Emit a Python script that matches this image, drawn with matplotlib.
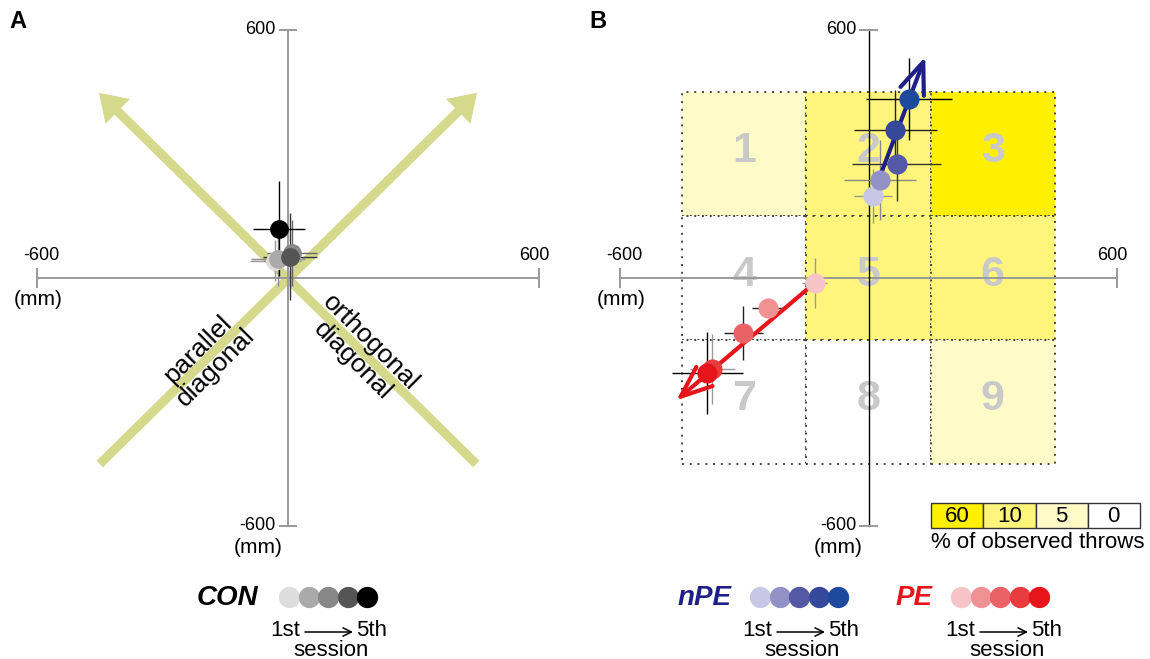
import matplotlib
matplotlib.use("Agg")
import matplotlib.pyplot as plt
from matplotlib.patches import Rectangle, FancyArrowPatch

plt.rcParams['font.family'] = ['Liberation Sans', 'DejaVu Sans']

# ---- data (mm) ----
# panel A: control group, sessions 1..5
con_x = [-30, -24, 10, 5, -22]
con_y = [42, 45, 60, 52, 119]
con_xerr = [60, 65, 60, 65, 62]
con_yerr = [50, 65, 80, 105, 115]
con_colors = ['#DDDDDD', '#AAAAAA', '#888888', '#555555', '#000000']
con_ecolors = ['#999999', '#888888', '#666666', '#333333', '#000000']

# diagonals drawn in panel A (start, end)
diagonals = [((-450, -450), (452, 448)), ((450, -450), (-452, 448))]

# panel B: nPE and PE groups, sessions 1..5
npe_x = [10, 27, 68, 65, 97]
npe_y = [199, 237, 276, 358, 433]
npe_xerr = [46, 87, 108, 100, 104]
npe_yerr = [65, 97, 90, 97, 100]
npe_colors = ['#C8C8E4', '#9292C6', '#5459A6', '#36489A', '#1D4A9C']
npe_ecolors = ['#999999', '#888888', '#333333', '#222222', '#000000']
npe_arrow = [(10, 199), (137, 535)]

pe_x = [-130, -242, -302, -377, -389]
pe_y = [-12, -73, -133, -220, -230]
pe_xerr = [30, 40, 48, 55, 85]
pe_yerr = [60, 20, 66, 85, 100]
pe_colors = ['#F6C4C6', '#F09294', '#EA6266', '#E83C3E', '#E8141C']
pe_ecolors = ['#999999', '#222222', '#222222', '#999999', '#000000']
pe_arrow = [(-130, -12), (-464, -296)]

# target cells: % of observed throws, rows top to bottom
cell_edges = [-450, -150, 150, 450]
cell_pct = [[5, 10, 60],
            [0, 10, 10],
            [0, 0, 5]]
pct_levels = [60, 10, 5, 0]
pct_colors = ['#FFF000', '#FFF57C', '#FFFBC8', '#FFFFFF']

W, H = 1150, 659
fig = plt.figure(figsize=(W / 100, H / 100), dpi=100)


def panel_axes(x0, x1, y0, y1):
    ax = fig.add_axes([x0 / W, 1 - y1 / H, (x1 - x0) / W, (y1 - y0) / H])
    ax.set_xlim(-600, 600)
    ax.set_ylim(-600, 600)
    ax.axis('off')
    return ax


def draw_axes(ax, vcolor, hcolor):
    g = dict(lw=1.4, zorder=2, clip_on=False, solid_capstyle='butt')
    ax.plot([-600, 600], [0, 0], color=hcolor, **g)
    ax.plot([-600, -600], [-25, 25], color=hcolor, **g)
    ax.plot([600, 600], [-25, 25], color=hcolor, **g)
    vlw = 1.0 if vcolor == 'black' else 1.4
    ax.plot([0, 0], [-600, 600], color=vcolor, lw=vlw, zorder=2, clip_on=False)
    ax.plot([-20, 20], [600, 600], color='#999999', lw=1.4, zorder=2, clip_on=False)
    ax.plot([-20, 20], [-600, -600], color='#999999', lw=1.4, zorder=2, clip_on=False)
    t = dict(fontsize=13, clip_on=False)
    ax.text(-30, 600, '600', ha='right', va='center', **t)
    ax.text(-30, -600, '-600', ha='right', va='center', **t)
    ax.text(-590, 55, '-600', ha='center', va='center', **t)
    ax.text(588, 55, '600', ha='center', va='center', **t)
    ax.text(-598, -52, '(mm)', ha='center', va='center', fontsize=15)
    ax.text(-72, -652, '(mm)', ha='center', va='center', fontsize=15)


def draw_sessions(ax, xs, ys, xe, ye, colors, ecolors, ms):
    for i in range(len(xs)):
        ax.errorbar(xs[i], ys[i], xerr=xe[i], yerr=ye[i], fmt='none',
                    ecolor=ecolors[i], elinewidth=1.0, capsize=0, zorder=3)
    for i in range(len(xs)):
        ax.plot(xs[i], ys[i], 'o', color=colors[i], ms=ms, mew=0, zorder=4)


# ---- panel A ----
axA = panel_axes(37, 539, 30, 526)
for start, end in diagonals:
    axA.add_patch(FancyArrowPatch(
        start, end, arrowstyle='simple,head_length=0.95,head_width=1.25,tail_width=0.33',
        mutation_scale=20, color='#D4D98C', lw=0, zorder=1, shrinkA=0, shrinkB=0))
draw_axes(axA, '#999999', '#999999')
draw_sessions(axA, con_x, con_y, con_xerr, con_yerr, con_colors, con_ecolors, 13.5)
axA.text(-195, -195, 'parallel\ndiagonal', rotation=45, ha='center', va='center',
         fontsize=19, linespacing=1.05, rotation_mode='anchor')
axA.text(175, -178, 'orthogonal\ndiagonal', rotation=-45, ha='center', va='center',
         fontsize=19, linespacing=1.05, rotation_mode='anchor')

# ---- panel B ----
axB = panel_axes(620, 1117, 30, 526)
num = 1
for r in range(3):
    for c in range(3):
        x0 = cell_edges[c]
        y1 = cell_edges[3 - r]
        y0 = cell_edges[2 - r]
        col = pct_colors[pct_levels.index(cell_pct[r][c])]
        axB.add_patch(Rectangle((x0, y0), 300, y1 - y0, facecolor=col,
                                edgecolor='#444444', lw=1.4, ls=(0, (1, 3)), zorder=1))
        axB.text(x0 + 150, (y0 + y1) / 2 + 8, str(num), ha='center', va='center',
                 fontsize=31, fontweight='bold', color='#C9C9C9', zorder=1.5)
        num += 1
draw_axes(axB, 'black', '#999999')
for arr, col in [(npe_arrow, '#1F1F8A'), (pe_arrow, '#E8141C')]:
    axB.annotate('', xy=arr[1], xytext=arr[0], zorder=3.5,
                 arrowprops=dict(arrowstyle='->,head_length=0.75,head_width=0.3',
                                 lw=3, color=col, mutation_scale=30,
                                 shrinkA=0, shrinkB=0))
draw_sessions(axB, npe_x, npe_y, npe_xerr, npe_yerr, npe_colors, npe_ecolors, 14.5)
draw_sessions(axB, pe_x, pe_y, pe_xerr, pe_yerr, pe_colors, pe_ecolors, 14.5)

# ---- legends (pixel coordinates) ----
lg = fig.add_axes([0, 0, 1, 1])
lg.set_xlim(0, W)
lg.set_ylim(H, 0)
lg.axis('off')
lg.patch.set_alpha(0)

fig.text(18 / W, 1 - 22 / H, 'A', fontsize=17, fontweight='bold', ha='center', va='center')
fig.text(598 / W, 1 - 22 / H, 'B', fontsize=17, fontweight='bold', ha='center', va='center')

groups = [('CON', '#000000', 258, 289, con_colors, 285, 372, 331),
          ('nPE', '#1F1F8A', 732, 760, npe_colors, 757, 844, 802),
          ('PE', '#E8141C', 933, 961, pe_colors, 960, 1047, 1007)]
for name, tcol, tx, cx, cols, x1st, x5th, xsess in groups:
    lg.text(tx, 598, name, ha='right', va='center', fontsize=20,
            fontweight='bold', fontstyle='italic', color=tcol)
    for i, c in enumerate(cols):
        lg.scatter(cx + 19.5 * i, 597, s=235, color=c, linewidths=0, zorder=3)
    lg.text(x1st, 631, '1st', ha='center', va='center', fontsize=16)
    lg.text(x5th, 631, '5th', ha='center', va='center', fontsize=16)
    lg.annotate('', xy=(x5th - 19, 632), xytext=(x1st + 20, 632),
                arrowprops=dict(arrowstyle='->', lw=1.1, color='black',
                                shrinkA=0, shrinkB=0, mutation_scale=15))
    lg.text(xsess, 650, 'session', ha='center', va='center', fontsize=16)

# colour key
for i, (lev, col) in enumerate(zip(pct_levels, pct_colors)):
    bx = 931 + 52.25 * i
    lg.add_patch(Rectangle((bx, 503), 52.25, 25, facecolor=col,
                           edgecolor='#333333', lw=1.0))
    lg.text(bx + 26, 516, str(lev), ha='center', va='center', fontsize=16)
lg.text(1038, 542, '% of observed throws', ha='center', va='center', fontsize=16)

fig.savefig('out.png', dpi=100)
